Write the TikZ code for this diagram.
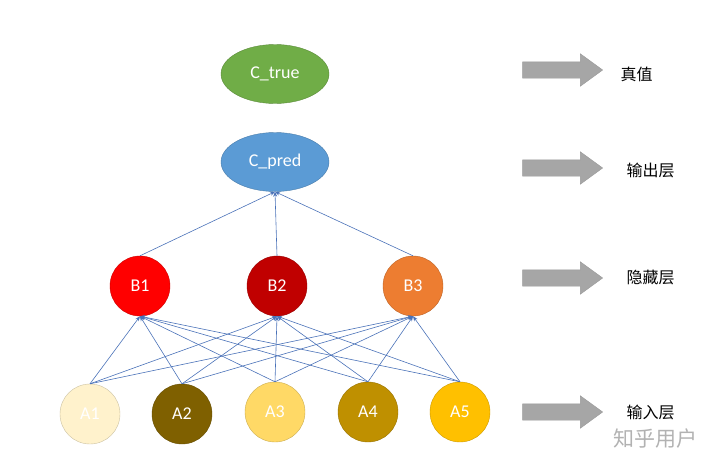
\documentclass[tikz,border=0pt]{standalone}
\usepackage{fontspec}
\setmainfont{Carlito}
\newfontfamily\cjk{Noto Sans CJK SC}
\usetikzlibrary{shapes.geometric,shapes.arrows,arrows.meta}
\definecolor{truegreen}{HTML}{70AD47}
\definecolor{predblue}{HTML}{5B9BD5}
\definecolor{hidA}{HTML}{FF0000}
\definecolor{hidB}{HTML}{C00000}
\definecolor{hidC}{HTML}{ED7D31}
\definecolor{inA}{HTML}{FFF2CC}
\definecolor{inB}{HTML}{7F6000}
\definecolor{inC}{HTML}{FFD966}
\definecolor{inD}{HTML}{BF9000}
\definecolor{inE}{HTML}{FFC000}
\definecolor{linkblue}{HTML}{4A72B8}

\begin{document}
\begin{tikzpicture}[x=1pt,y=-1pt,
  unit/.style={circle, minimum size=60pt, inner sep=0pt, text=white,
    font=\fontsize{18}{18}\selectfont, draw=#1!80!black, fill=#1},
  outunit/.style={ellipse, minimum width=108pt, minimum height=59pt, inner sep=0pt,
    text=white, font=\fontsize{18}{18}\selectfont, draw=#1!80!black, fill=#1},
  link/.style={draw=linkblue, line width=0.6pt, -{Stealth[length=5pt,width=4pt]}},
  bigarrow/.style={single arrow, fill=black!35, draw=black!40, inner sep=8pt,
    minimum height=80pt, single arrow head extend=8pt, single arrow tip angle=72},
  layername/.style={font=\cjk\fontsize{16}{16}\selectfont, anchor=west}]
\useasboundingbox (0,0) rectangle (720,466);
\path (275,74) node[outunit=truegreen] (Ctrue) {C\_true};
\path (275,162) node[outunit=predblue] (Cpred) {C\_pred};
\path (140,286) node[unit=hidA] (B1) {B1};
\path (277,286) node[unit=hidB] (B2) {B2};
\path (413,286) node[unit=hidC] (B3) {B3};
\path (90,414) node[unit=inA] (A1) {A1};
\path (182,414) node[unit=inB] (A2) {A2};
\path (275,412) node[unit=inC] (A3) {A3};
\path (368,412) node[unit=inD] (A4) {A4};
\path (460,412) node[unit=inE] (A5) {A5};
\foreach \a in {A1,A2,A3,A4,A5}
  \foreach \b in {B1,B2,B3}
    \draw[link] (\a.north) -- (\b.south);
\foreach \b in {B1,B2,B3}
  \draw[link] (\b.north) -- (Cpred.south);
\path (557,70) node[bigarrow] (arrTrue) {};
\path (557,168) node[bigarrow] (arrOut) {};
\path (557,278) node[bigarrow] (arrHid) {};
\path (557,412) node[bigarrow] (arrIn) {};
\path (617,74) node[layername] (lblTrue) {真值};
\path (623,170) node[layername] (lblOut) {输出层};
\path (623,277) node[layername] (lblHid) {隐藏层};
\path (623,412) node[layername] (lblIn) {输入层};
\path (655,439) node[font=\cjk\fontsize{21}{21}\selectfont, text=black!30] (mark) {知乎用户};
\end{tikzpicture}
\end{document}
